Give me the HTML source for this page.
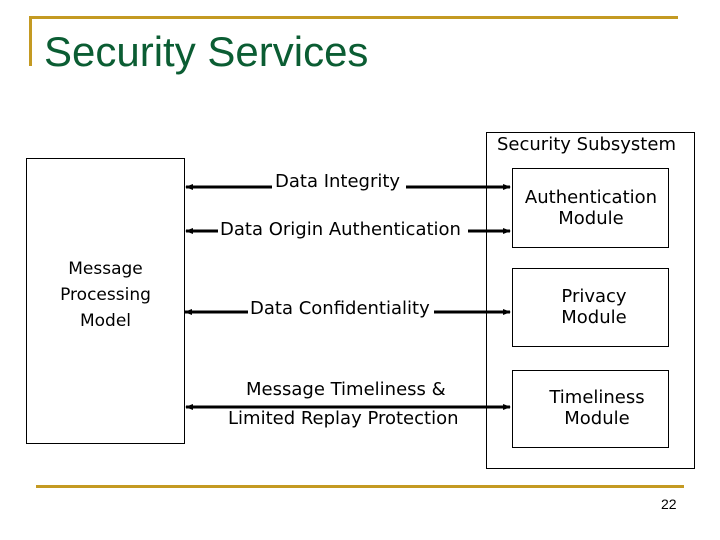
<!DOCTYPE html>
<html><head><style>
body{margin:0;width:720px;height:540px;background:#fff;position:relative;overflow:hidden;font-family:"DejaVu Sans","Liberation Sans",sans-serif;}
.a{position:absolute}
.t{position:absolute;font-size:18px;color:#000;white-space:nowrap;line-height:1;}
</style></head><body>
<div class="a" style="left:30px;top:16px;width:648px;height:3px;background:#c49a22"></div>
<div class="a" style="left:29px;top:16px;width:3px;height:50px;background:#c49a22"></div>
<div class="a" style="left:44px;top:31px;font-family:'Liberation Sans',sans-serif;font-size:42px;color:#0b5d33;line-height:1">Security Services</div>
<div class="a" style="left:36px;top:485px;width:648px;height:3px;background:#c49a22"></div>
<div class="t" style="left:661px;top:497px;font-family:'Liberation Sans',sans-serif;font-size:14px">22</div>

<div class="a" style="left:26px;top:158px;width:157px;height:284px;border:1px solid #000"></div>
<div class="t" style="left:26px;top:256px;width:159px;text-align:center;line-height:26px;font-size:17px">Message<br>Processing<br>Model</div>

<div class="a" style="left:486px;top:132px;width:207px;height:335px;border:1px solid #000"></div>
<div class="t" style="left:497px;top:136px">Security Subsystem</div>
<div class="a" style="left:512px;top:168px;width:155px;height:78px;border:1px solid #000"></div>
<div class="t" style="left:512px;top:187px;width:158px;text-align:center;line-height:21px">Authentication<br>Module</div>
<div class="a" style="left:512px;top:268px;width:155px;height:77px;border:1px solid #000"></div>
<div class="t" style="left:515px;top:286px;width:158px;text-align:center;line-height:21px">Privacy<br>Module</div>
<div class="a" style="left:512px;top:370px;width:155px;height:76px;border:1px solid #000"></div>
<div class="t" style="left:518px;top:387px;width:158px;text-align:center;line-height:21px">Timeliness<br>Module</div>

<svg class="a" style="left:0;top:0" width="720" height="540">
<defs><marker id="m" markerWidth="8" markerHeight="6" refX="7" refY="3" orient="auto-start-reverse" markerUnits="userSpaceOnUse"><path d="M0,0L8,3L0,6z" fill="#000"/></marker></defs>
<g stroke="#000" stroke-width="3">
<line x1="186" y1="187" x2="272" y2="187" marker-start="url(#m)"/>
<line x1="406" y1="187" x2="510" y2="187" marker-end="url(#m)"/>
<line x1="186" y1="231" x2="218" y2="231" marker-start="url(#m)"/>
<line x1="468" y1="231" x2="510" y2="231" marker-end="url(#m)"/>
<line x1="185" y1="312" x2="248" y2="312" marker-start="url(#m)"/>
<line x1="434" y1="312" x2="510" y2="312" marker-end="url(#m)"/>
<line x1="186" y1="407" x2="510" y2="407" marker-start="url(#m)" marker-end="url(#m)"/>
</g></svg>
<div class="t" style="left:275px;top:173px">Data Integrity</div>
<div class="t" style="left:220px;top:221px">Data Origin Authentication</div>
<div class="t" style="left:250px;top:300px">Data Confidentiality</div>
<div class="t" style="left:246px;top:381px">Message Timeliness &amp;</div>
<div class="t" style="left:228px;top:410px">Limited Replay Protection</div>
</body></html>
